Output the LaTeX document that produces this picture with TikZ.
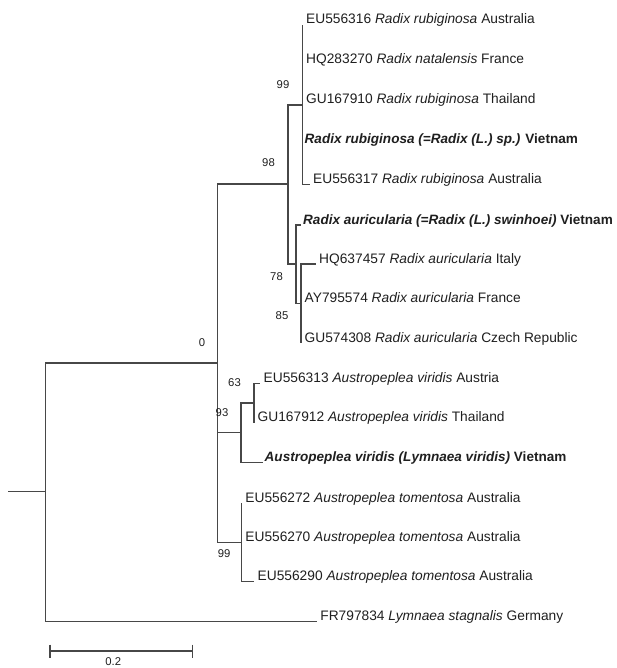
\documentclass[tikz,border=0pt]{standalone}
\usepackage{fontspec}
\setmainfont{Liberation Sans}
\usepackage{tikz}

\begin{document}
\begin{tikzpicture}[x=1pt,y=-1pt,
  branch/.style={line width=1.1pt, black!72},
  taxon/.style={anchor=base west, inner sep=0pt, xshift=3.5pt, yshift=1pt, text=black!88, font=\fontsize{13.75}{16}\selectfont},
  taxonbold/.style={taxon, xshift=-1.5pt, font=\fontsize{13.55}{16}\selectfont\bfseries},
  boot/.style={anchor=east, inner sep=0pt, text=black!88, font=\fontsize{11.3}{13}\selectfont}]
\useasboundingbox (0,0) rectangle (617,668);
% internal nodes
\coordinate (stub) at (8,491.7);
\coordinate (root) at (45.7,491.7);
\coordinate (ingroup) at (217.3,363);
\coordinate (radix) at (288,184);
\coordinate (rubi) at (302.5,105);
\coordinate (auri) at (296,264);
\coordinate (auriB) at (301,303.3);
\coordinate (viri) at (241,432.7);
\coordinate (viriB) at (254,403);
\coordinate (tome) at (241.7,542.3);
%
% tips
\coordinate (t1) at (302.5,25);
\coordinate (t2) at (302.5,64.8);
\coordinate (t3) at (302.5,104.6);
\coordinate (t4) at (302.5,144.4);
\coordinate (t5) at (309.5,184.2);
\coordinate (t6) at (301,225);
\coordinate (t7) at (315.5,264);
\coordinate (t8) at (301,303.3);
\coordinate (t9) at (301,343);
\coordinate (t10) at (260,383.3);
\coordinate (t11) at (254,422.7);
\coordinate (t12) at (262.5,462.3);
\coordinate (t13) at (241.7,503);
\coordinate (t14) at (241.7,542.3);
\coordinate (t15) at (254,581.7);
\coordinate (t16) at (316.7,621.7);
%
% branches
\draw[branch] (stub) -- (root);
\draw[branch] (root) |- (ingroup);
\draw[branch] (root) |- (t16);
\draw[branch] (ingroup) |- (radix);
\draw[branch] (ingroup) |- (viri);
\draw[branch] (ingroup) |- (tome);
\draw[branch] (radix) |- (rubi);
\draw[branch] (radix) |- (auri);
\draw[branch] (rubi) |- (t1);
\draw[branch] (rubi) |- (t2);
\draw[branch] (rubi) |- (t3);
\draw[branch] (rubi) |- (t4);
\draw[branch] (rubi) |- (t5);
\draw[branch] (auri) |- (t6);
\draw[branch] (auri) |- (auriB);
\draw[branch] (auriB) |- (t7);
\draw[branch] (auriB) |- (t8);
\draw[branch] (auriB) |- (t9);
\draw[branch] (viri) |- (viriB);
\draw[branch] (viri) |- (t12);
\draw[branch] (viriB) |- (t10);
\draw[branch] (viriB) |- (t11);
\draw[branch] (tome) |- (t13);
\draw[branch] (tome) |- (t14);
\draw[branch] (tome) |- (t15);
%
% taxa
\node[taxon] (l1) at (t1) {EU556316 \textit{Radix rubiginosa} Australia};
\node[taxon] (l2) at (t2) {HQ283270 \textit{Radix natalensis} France};
\node[taxon] (l3) at (t3) {GU167910 \textit{Radix rubiginosa} Thailand};
\node[taxonbold] (l4) at (t4) {\textit{Radix rubiginosa (=Radix (L.) sp.)} Vietnam};
\node[taxon] (l5) at (t5) {EU556317 \textit{Radix rubiginosa} Australia};
\node[taxonbold] (l6) at (t6) {\textit{Radix auricularia (=Radix (L.) swinhoei)} Vietnam};
\node[taxon] (l7) at (t7) {HQ637457 \textit{Radix auricularia} Italy};
\node[taxon] (l8) at (t8) {AY795574 \textit{Radix auricularia} France};
\node[taxon] (l9) at (t9) {GU574308 \textit{Radix auricularia} Czech Republic};
\node[taxon] (l10) at (t10) {EU556313 \textit{Austropeplea viridis} Austria};
\node[taxon] (l11) at (t11) {GU167912 \textit{Austropeplea viridis} Thailand};
\node[taxonbold] (l12) at (t12) {\textit{Austropeplea viridis (Lymnaea viridis)} Vietnam};
\node[taxon] (l13) at (t13) {EU556272 \textit{Austropeplea tomentosa} Australia};
\node[taxon] (l14) at (t14) {EU556270 \textit{Austropeplea tomentosa} Australia};
\node[taxon] (l15) at (t15) {EU556290 \textit{Austropeplea tomentosa} Australia};
\node[taxon] (l16) at (t16) {FR797834 \textit{Lymnaea stagnalis} Germany};
%
% bootstrap values
\node[boot] (bIngroup) at ([shift={(-12,-20)}]ingroup) {0};
\node[boot] (bRadix) at ([shift={(-13,-21)}]radix) {98};
\node[boot] (bRubi) at ([shift={(-13,-20)}]rubi) {99};
\node[boot] (bAuri) at ([shift={(-13,12.7)}]auri) {78};
\node[boot] (bAuriB) at ([shift={(-12.5,12.7)}]auriB) {85};
\node[boot] (bViri) at ([shift={(-12.5,-20)}]viri) {93};
\node[boot] (bViriB) at ([shift={(-13,-20)}]viriB) {63};
\node[boot] (bTome) at ([shift={(-11,11.7)}]tome) {99};
%
% scale bar
\coordinate (sbL) at (50,651);
\coordinate (sbR) at (192.7,651);
\draw[branch] (sbL) -- (sbR);
\draw[branch] ([yshift=6.5pt]sbL) -- ([yshift=-6.5pt]sbL);
\draw[branch] ([yshift=6.5pt]sbR) -- ([yshift=-6.5pt]sbR);
\node[boot, anchor=north] (sbLabel) at (113.3,657.8) {0.2};
\end{tikzpicture}
\end{document}
